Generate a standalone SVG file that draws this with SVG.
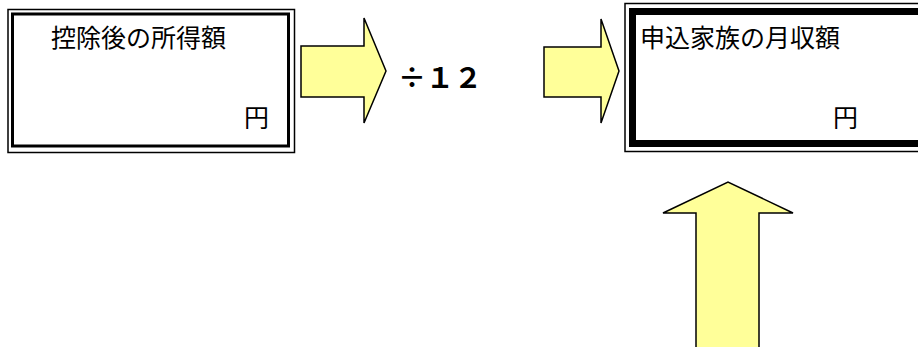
<svg xmlns="http://www.w3.org/2000/svg" width="918" height="347" viewBox="0 0 918 347">
<style>
.t{font-family:"Noto Sans CJK JP","Noto Sans CJK SC",sans-serif;font-size:25px;fill:#000}
.arrow{fill:#FFFF99;stroke:#000;stroke-width:1.5;stroke-linejoin:miter}
.thin{fill:none;stroke:#000;stroke-width:1.5}
</style>
<rect width="918" height="347" fill="#fff"/>
<g id="box-left">
<rect class="thin" x="8" y="9.5" width="286.5" height="143"/>
<rect x="12.5" y="14" width="276" height="132" fill="#fff" stroke="#000" stroke-width="3"/>
<text class="t" x="51" y="47">控除後の所得額</text>
<text class="t" x="244" y="127">円</text>
</g>
<g id="box-right">
<rect class="thin" x="625" y="3.5" width="310" height="148"/>
<rect x="632.5" y="11.5" width="300" height="132" fill="#fff" stroke="#000" stroke-width="7"/>
<text class="t" x="640" y="47">申込家族の月収額</text>
<text class="t" x="833" y="127">円</text>
</g>
<g id="label-div">
<text x="398" y="88" font-family="'Noto Sans CJK JP',sans-serif" font-weight="bold" font-size="28">÷１２</text>
</g>
<g id="connectors">
<polygon class="arrow" points="301,46 364,46 364,18 386,71 364,123 364,97 301,97"/>
<polygon class="arrow" points="544,47 601,47 601,19 619,71 601,123 601,97 544,97"/>
<polygon class="arrow" points="696,352 696,213 663,213 728,182 793,213 759,213 759,352"/>
</g>
</svg>
